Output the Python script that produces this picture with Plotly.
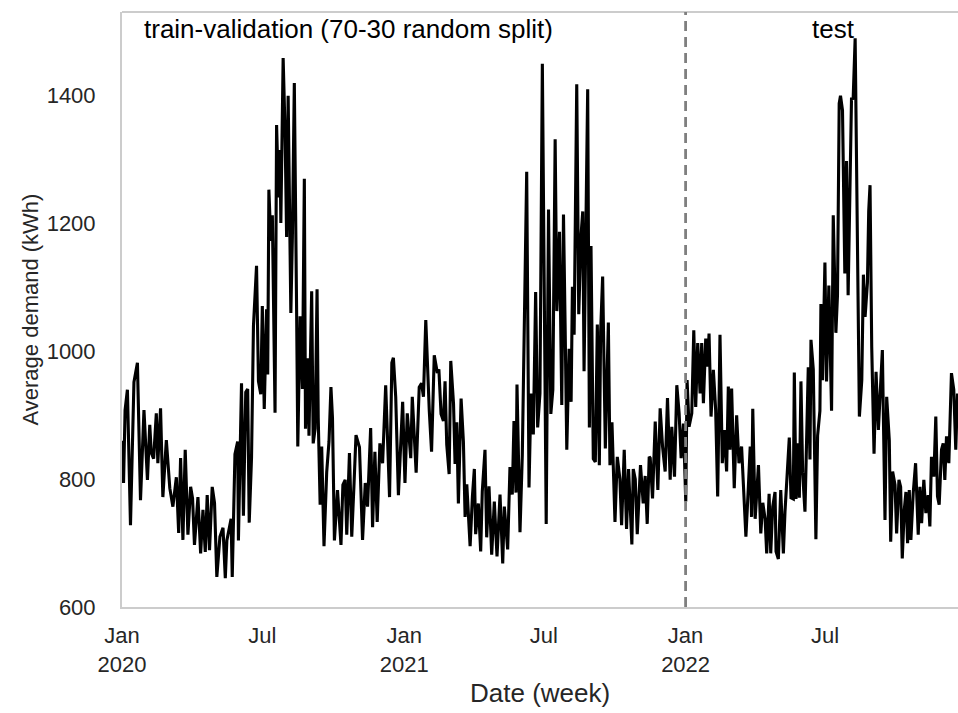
import pandas as pd
import plotly.graph_objects as go

START = "2020-01-01"

# Daily-ish demand: days since 2020-01-01 and average demand (kWh)
days_a = [0, 2, 4, 7, 11, 15.5, 20, 24, 28.5, 33, 36, 38, 41, 44.5, 46.5, 50, 53, 57.5, 62, 66,
          70.5, 73.5, 76, 79, 82, 85.5, 89, 91.5, 94, 98.5, 102, 105, 108, 110.5, 113.5, 117, 120,
          123, 127, 131, 134]
vals_a = [860, 794, 908, 940, 728, 952, 982, 767, 908, 799, 885, 841, 832, 903, 825, 911, 772, 861,
          786, 757, 803, 716, 833, 705, 846, 713, 788, 770, 697, 772, 684, 752, 686, 775, 689, 788,
          763, 647, 710, 724, 645]

days_b = [136, 141.5, 143, 146.5, 150, 151, 155, 157.5, 160.5, 163, 165, 168, 170.5, 174.5, 177,
          180, 182, 184.5, 187.5, 189, 190.5, 193, 195, 198.5, 200.5, 203, 205, 206, 209, 211.5,
          213.5, 215.5, 219, 221, 223.5, 226.5, 228, 231, 234, 236.5, 238, 241, 242.5, 246, 248,
          250.5, 253, 254.5, 257, 259, 262, 265.5, 268.5, 271, 273, 275.5]
vals_b = [704, 738, 647, 839, 859, 704, 950, 743, 936, 941, 732, 834, 1040, 1134, 953, 933, 1071,
          910, 1066, 964, 1253, 1173, 1213, 904, 1354, 1241, 1315, 1201, 1459, 1343, 1179, 1400,
          1060, 1179, 1420, 1060, 851, 1055, 941, 1270, 879, 989, 868, 1094, 856, 879, 1097, 896,
          760, 851, 695, 811, 859, 944, 896, 704]

days_c = [279.5, 284, 286.5, 289.5, 291.5, 295, 298, 301, 303.5, 308, 312, 315.5, 318.5, 322.5,
          325, 328, 331, 334.5, 338, 342, 347, 350, 352, 355, 358.5, 364, 367, 370, 374.5, 376.5,
          381.5, 385.5, 388.5, 391, 394, 398.5, 401.5, 405, 409]
vals_c = [783, 697, 791, 799, 713, 841, 710, 794, 869, 850, 705, 794, 757, 880, 725, 843, 733, 856,
          825, 947, 772, 982, 990, 929, 775, 921, 794, 903, 833, 929, 810, 944, 950, 929, 1049, 908,
          843, 994, 966]

days_d = [411, 413.8, 416.9, 419, 421.2, 424.3, 426.4, 430, 432, 434.2, 436.3, 439.8, 442.8, 445,
          447.2, 451.5, 454.5, 457, 458.7, 462.2, 465.2, 467.3, 470.8, 473, 476, 479.5, 482.9,
          486.4, 490.3, 493.8, 495.9, 500.2, 503.2, 506.2, 508.4, 511, 512.3, 516.2, 519.2, 524.9,
          527.9, 530.5, 533.5, 536.5, 539.1, 542.1, 545.2]
vals_d = [972, 902, 891, 953, 854, 808, 985, 918, 824, 889, 762, 926, 859, 741, 792, 695, 773, 816,
          714, 762, 687, 781, 846, 709, 789, 682, 765, 679, 776, 668, 757, 690, 819, 776, 891, 779,
          948, 717, 838, 1281, 787, 934, 870, 1093, 881, 934, 1450]

days_e = [550.2, 553.2, 556.2, 558.8, 561.8, 564, 567.4, 570.4, 572.6, 574.7, 576.9, 579.9, 582.5,
          584.2, 586.4, 589.8, 592.4, 595.4, 597.6, 599.3, 601.9, 604, 606.2, 608.3, 611.3, 613.9,
          616.5, 619.1, 620.8, 623.4, 626.9, 630.8, 632.9, 635.5, 639.4, 642.4, 645.8, 648, 651.4,
          654.4, 657, 661.3, 663.1, 665.7, 668.3, 672.5, 676, 678.6, 681.2, 683.8]
vals_e = [730, 1222, 902, 940, 1332, 1063, 1187, 916, 1214, 1042, 846, 1004, 921, 1101, 1026, 1418,
          1058, 1182, 1219, 969, 1219, 1410, 881, 1165, 832, 827, 1042, 822, 1031, 1117, 848, 1045,
          822, 889, 733, 835, 800, 728, 846, 722, 816, 698, 816, 800, 714, 822, 762, 805, 730, 835]

days_f = [685.1, 688.1, 691.6, 695, 698, 701.1, 704.5, 707.5, 711, 713.1, 716.6, 719.6, 722.6,
          725.2, 728.2, 731.2, 732.9, 735.5, 739, 741.6, 744.1, 746.7, 749.8, 751.9, 754.1, 757.1,
          759.7, 761.4, 764, 767, 770, 772.6, 775.6, 778.6, 781.2, 784.2, 786.4, 788.5, 790.7,
          794.1, 797.2, 800.2, 803.6, 806.6, 809.2, 812.2, 814.8, 816.5]
vals_f = [833, 770, 890, 783, 911, 851, 812, 927, 799, 882, 804, 947, 903, 833, 887, 765, 955, 882,
          903, 1033, 913, 1013, 934, 1013, 919, 1020, 976, 1028, 898, 971, 908, 773, 1026, 825, 877,
          812, 945, 846, 942, 786, 900, 825, 851, 778, 710, 783, 851, 741]

days_g = [818.1, 821.2, 825.5, 828.5, 831.1, 834.1, 836.2, 839.3, 841.4, 844, 847, 848.3, 851.3,
          854.4, 857.8, 859.9, 862.9, 865.5, 867.7, 870.7, 872, 874.2, 876.3, 878.5, 880.6, 882.8,
          885.8, 888, 890.1, 892.3, 893.6, 896.6, 897.9, 900, 902.2, 905.2, 906.5, 908.6, 911.7,
          913.8, 916.8, 920.3, 922.5, 925.9, 928, 930.2, 931.9, 934.5, 937.5, 939.7, 941.8, 944,
          946.2, 948.3, 950.9]
vals_g = [910, 738, 822, 715, 763, 738, 684, 777, 684, 757, 780, 687, 675, 783, 684, 749, 817, 865,
          771, 769, 967, 769, 856, 771, 953, 811, 749, 896, 975, 831, 1018, 972, 839, 706, 868, 907,
          1074, 955, 1139, 953, 1103, 907, 1213, 1029, 1088, 1388, 1400, 1377, 1122, 1298, 1088,
          1236, 1397, 1394, 1490]

days_h = [956.4, 959.5, 961.6, 963.8, 966.8, 968.5, 970.2, 972.4, 975.4, 978, 981, 983.2, 986.2,
          989.6, 991.8, 995.2, 997, 999.5, 1002.6, 1004.7, 1007.7, 1009.9, 1012, 1014.6, 1016.8,
          1018.9, 1021.1, 1023.2, 1026.2, 1029.3, 1032.7, 1034.9, 1037.1, 1040, 1042.6, 1045.6,
          1047.8, 1049.9, 1053, 1055.5, 1057.7, 1059.9, 1062.9, 1065.1, 1067.2, 1069.4, 1072.4,
          1075.8, 1078.8, 1081.4, 1083.6]
vals_h = [898, 955, 1120, 1054, 1107, 1220, 1260, 1007, 840, 968, 877, 932, 1002, 736, 929, 861,
          702, 812, 791, 715, 799, 788, 676, 752, 780, 700, 783, 705, 778, 825, 713, 788, 731, 799,
          747, 775, 726, 835, 804, 898, 773, 760, 846, 856, 799, 867, 825, 966, 940, 846, 934]

day_offset = days_a + days_b + days_c + days_d + days_e + days_f + days_g + days_h
demand = vals_a + vals_b + vals_c + vals_d + vals_e + vals_f + vals_g + vals_h
assert len(day_offset) == len(demand)

SPLIT_DATE = "2022-01-01"
region_labels = ["train-validation (70-30 random split)", "test"]
region_label_day = [293.5, 923]
LABEL_Y = 1504

tick_dates = ["2020-01-01", "2020-07-01", "2021-01-01", "2021-07-01", "2022-01-01", "2022-07-01"]
tick_text = ["Jan<br>2020", "Jul", "Jan<br>2021", "Jul", "Jan<br>2022", "Jul"]
y_ticks = [600, 800, 1000, 1200, 1400]
Y_RANGE = [600, 1531]
X_END_DAY = 1084.3

start = pd.Timestamp(START)
dates = start + pd.to_timedelta(day_offset, unit="D")
label_dates = start + pd.to_timedelta(region_label_day, unit="D")
x_end = start + pd.Timedelta(days=X_END_DAY)

FONT = "Liberation Sans, Arial, sans-serif"
TXT = "#262626"
SPINE = "#cccccc"
TICK_SIZE = 22
XLABEL_SIZE = 26
YLABEL_SIZE = 22
ANNOT_SIZE = 26

fig = go.Figure()
fig.add_trace(go.Scatter(x=dates, y=demand, mode="lines",
                         line=dict(color="black", width=3.1), hoverinfo="skip",
                         showlegend=False))

fig.update_layout(
    width=958, height=713,
    margin=dict(l=122, r=0, t=12, b=106),
    paper_bgcolor="white", plot_bgcolor="white",
    font=dict(family=FONT, size=TICK_SIZE, color=TXT),
    showlegend=False,
    xaxis=dict(type="date", range=[start, x_end], tickvals=tick_dates, ticktext=tick_text,
               showgrid=False, zeroline=False, showline=True, linecolor=SPINE, linewidth=2,
               ticks="", ticklabelstandoff=8, tickfont=dict(size=TICK_SIZE, color=TXT)),
    yaxis=dict(range=Y_RANGE, tickvals=y_ticks, showgrid=False, zeroline=False,
               showline=True, linecolor=SPINE, linewidth=2, ticks="",
               ticklabelstandoff=20, tickfont=dict(size=TICK_SIZE, color=TXT)),
)

# top spine (right spine falls outside the frame)
fig.add_shape(type="line", xref="paper", yref="paper", x0=0, x1=1, y0=1, y1=1,
              line=dict(color=SPINE, width=2))
# split line
fig.add_shape(type="line", xref="x", yref="paper", x0=SPLIT_DATE, x1=SPLIT_DATE, y0=0, y1=1,
              line=dict(color="#7f7f7f", width=2.8, dash="10px,6px"), layer="above")

for txt, d in zip(region_labels, label_dates):
    fig.add_annotation(x=d, y=LABEL_Y, xref="x", yref="y", text=txt, showarrow=False,
                       xanchor="center", yanchor="middle",
                       font=dict(family=FONT, size=ANNOT_SIZE, color="black"))

fig.add_annotation(x=0.5, y=0, xref="paper", yref="paper", yshift=-86, text="Date (week)",
                   showarrow=False, xanchor="center", yanchor="middle",
                   font=dict(family=FONT, size=XLABEL_SIZE, color=TXT))
fig.add_annotation(x=0, y=0.5, xref="paper", yref="paper", xshift=-92,
                   text="Average demand (kWh)", textangle=-90, showarrow=False,
                   xanchor="center", yanchor="middle",
                   font=dict(family=FONT, size=YLABEL_SIZE, color=TXT))

fig.write_html("out.html")
